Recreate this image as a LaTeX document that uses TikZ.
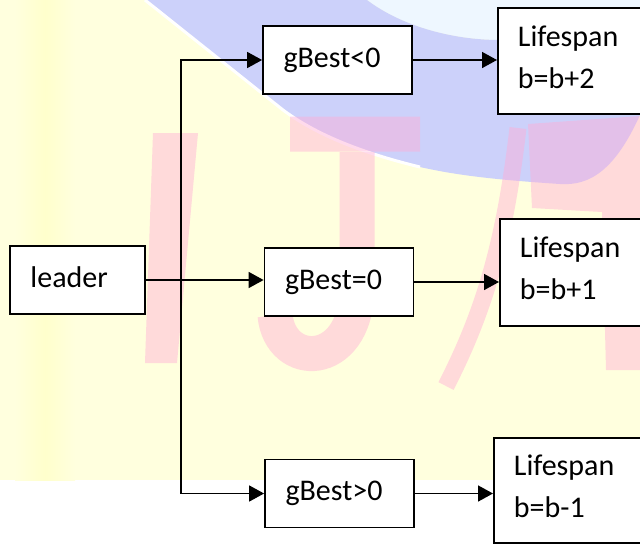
\documentclass[tikz,border=0pt]{standalone}
\usepackage{fontspec}
\setmainfont{Carlito}
\usetikzlibrary{arrows.meta}

\definecolor{bgyellow}{RGB}{255,255,222}
\definecolor{bgyellowdeep}{RGB}{255,255,204}
\definecolor{bandblue}{RGB}{204,209,250}
\definecolor{bandpale}{RGB}{238,247,255}
\definecolor{markpink}{RGB}{255,173,214}

\begin{document}
\begin{tikzpicture}[x=1pt,y=-1pt,
  box/.style={draw=black, line width=1.8pt, fill=white, rectangle,
    align=left, inner ysep=0pt, font=\fontsize{30}{42}\selectfont},
  single/.style={box, minimum height=68pt, text height=20pt, text depth=6pt,
    inner xsep=20.5pt},
  lifebox/.style={box, anchor=west, text width=130pt, inner xsep=20pt,
    text height=21pt, text depth=51pt},
  flow/.style={line width=1.6pt, -{Triangle[length=15pt,width=16pt]}},
  pinkletter/.style={markpink, fill opacity=0.45, draw opacity=0.45},
]
\path[use as bounding box] (0,0) rectangle (640,544);
\clip (0,0) rectangle (640,544);

% pale background of the page
\fill[bgyellow] (0,0) rectangle (640,480);
\shade[left color=bgyellow, right color=bgyellow, middle color=bgyellowdeep]
  (15,0) rectangle (75,480);

% blue swoosh across the top
\fill[bandpale] (367,0) -- (640,0) -- (640,40) -- (500,40)
  .. controls (450,40) and (400,25) .. (367,0) -- cycle;
\fill[bandblue] (145,0) -- (367,0) .. controls (400,25) and (450,40) .. (500,40)
  -- (640,40) -- (640,115) .. controls (615,170) and (590,186) .. (560,184)
  .. controls (500,180) and (460,176) .. (420,167)
  .. controls (350,150) and (310,130) .. (283,110) -- cycle;
\draw[white, line width=3pt] (145,0) -- (283,110)
  .. controls (310,130) and (350,150) .. (420,167);

% faint red lettering
\fill[pinkletter] (153,133) -- (198,133) -- (177,363) -- (145,363) -- cycle;
\draw[pinkletter, line width=35pt] (290,134) -- (420,134)
  (357,152) -- (357,290) .. controls (355,370) and (280,370) .. (275,315);
\draw[pinkletter, line width=17pt] (518,128) .. controls (505,240) and (485,310) .. (446,386);
\fill[pinkletter] (528,124) -- (640,116) -- (640,370) -- (606,370) -- (602,212)
  -- (532,208) -- cycle;

% boxes
\node[single, text width=94pt] (leader) at (77.5,280) {leader};
\node[single, text width=108pt] (g1) at (337.5,60) {gBest<0};
\node[single, text width=108pt] (g2) at (339,282) {gBest=0};
\node[single, text width=108pt] (g3) at (339.5,493.5) {gBest>0};
\node[lifebox, minimum height=106pt] (l1) at (497,61) {Lifespan\\b=b+2};
\node[lifebox, minimum height=107pt] (l2) at (499,272.5) {Lifespan\\b=b+1};
\node[lifebox, minimum height=105pt] (l3) at (493,490.5) {Lifespan\\b=b-1};

% branching connectors
\coordinate (split) at (181,280);
\draw[flow] (leader.east) -- (leader.east -| g2.west);
\draw[flow] (split) |- (g1.west);
\draw[flow] (split) |- (g3.west);
\draw[flow] (g1.east) -- (g1.east -| l1.west);
\draw[flow] (g2.east) -- (g2.east -| l2.west);
\draw[flow] (g3.east) -- (g3.east -| l3.west);
\end{tikzpicture}
\end{document}
